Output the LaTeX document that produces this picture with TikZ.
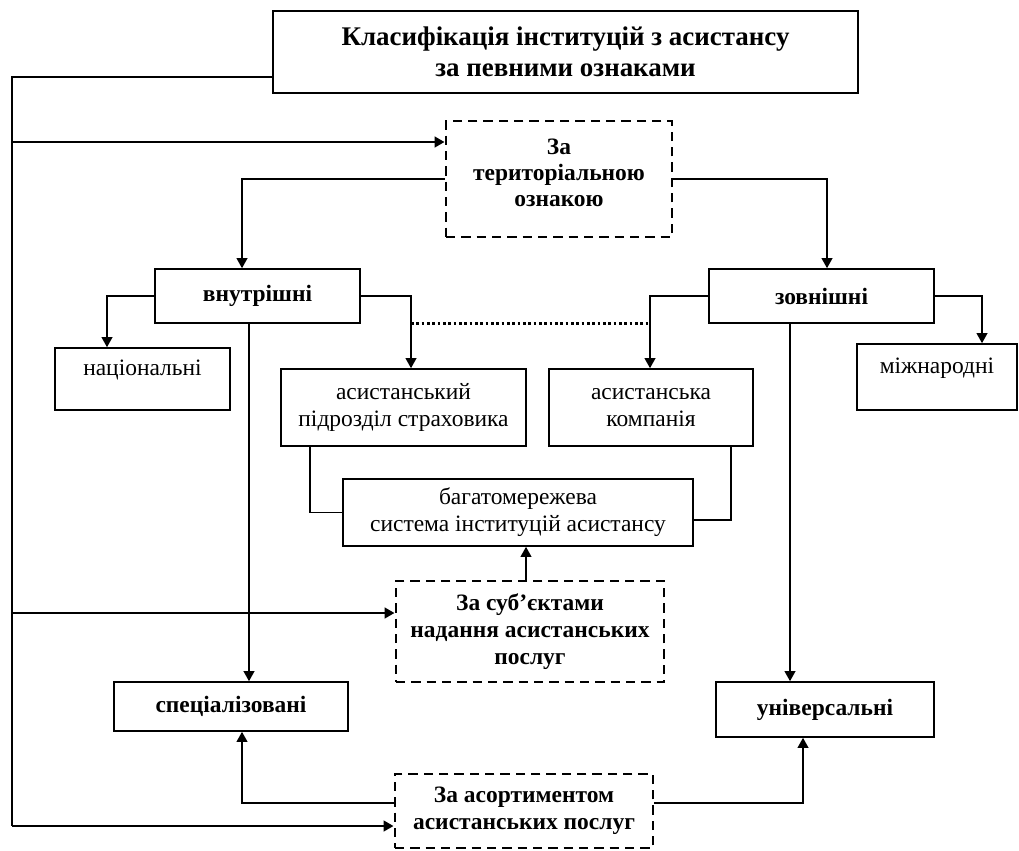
\documentclass[tikz,border=0pt]{standalone}
\usepackage{fontspec}
\setmainfont{Liberation Serif}
\usetikzlibrary{arrows.meta,calc}
\newcommand\bodyfnt{\fontsize{17.6}{20.25}\selectfont}
\newcommand\titlefnt{\fontsize{20.2}{23.25}\selectfont\bfseries}
\tikzset{
  box/.style={draw, line width=1.2pt, inner sep=0pt, align=center, font=\bodyfnt},
  tbox/.style={draw, line width=2.2pt, inner sep=0pt, align=center, font=\titlefnt},
  dbox/.style={draw, line width=2.2pt, dash pattern=on 7pt off 4.5pt, inner sep=0pt, align=center, font=\bodyfnt\bfseries},
  ln/.style={line width=1.2pt},
  arr/.style={line width=1.2pt, -{Triangle[length=7.5pt,width=8pt]}},
  bus/.style={line width=2.2pt},
  busarr/.style={line width=2.2pt, -{Triangle[length=7.5pt,width=8pt]}},
  dots/.style={line width=2pt, dash pattern=on 2pt off 2pt},
}
\begin{document}
\begin{tikzpicture}[x=0.75pt,y=-0.75pt]
\useasboundingbox (0,0) rectangle (1019,850);
% boxes
\node[tbox, minimum width=585*0.75pt, minimum height=82*0.75pt] (title) at (565.5,52) {Класифікація інституцій з асистансу\\за певними ознаками};
\node[dbox, minimum width=226*0.75pt, minimum height=116*0.75pt] (d1) at (559,179) {За\\[-1pt]територіальною\\[-1pt]ознакою\\[-11pt]\mbox{}};
\node[box, font=\bodyfnt\bfseries, minimum width=205*0.75pt, minimum height=54*0.75pt] (vn) at (257.5,296) {внутрішні};
\node[box, font=\bodyfnt\bfseries, minimum width=225*0.75pt, minimum height=54*0.75pt] (zv) at (821.5,296) {зовнішні};
\node[box, minimum width=175*0.75pt, minimum height=62*0.75pt] (nat) at (142.5,379) {національні\\[-3pt]\mbox{}};
\node[box, minimum width=160*0.75pt, minimum height=66*0.75pt] (miz) at (937,377) {міжнародні\\[-3pt]\mbox{}};
\node[box, minimum width=245*0.75pt, minimum height=77*0.75pt] (asp) at (403.5,407.5) {асистанський\\підрозділ страховика};
\node[box, minimum width=204*0.75pt, minimum height=77*0.75pt] (ask) at (651,407.5) {асистанська\\компанія};
\node[box, minimum width=350*0.75pt, minimum height=67*0.75pt] (bag) at (518,512.5) {багатомережева\\система інституцій асистансу};
\node[dbox, minimum width=268*0.75pt, minimum height=101*0.75pt] (d2) at (530,631.5) {За суб’єктами\\надання асистанських\\послуг};
\node[box, font=\bodyfnt\bfseries, minimum width=234*0.75pt, minimum height=49*0.75pt] (spec) at (231,706.5) {спеціалізовані};
\node[box, font=\bodyfnt\bfseries, minimum width=218*0.75pt, minimum height=55*0.75pt] (univ) at (825,709.5) {універсальні};
\node[dbox, minimum width=258*0.75pt, minimum height=74*0.75pt] (d3) at (524,811) {За асортиментом\\асистанських послуг};
% bus
\coordinate (b0) at (12,77);
\coordinate (bE) at (12,826);
\coordinate (b1) at (12,142);
\coordinate (b2) at (12,613);
\draw[bus, line join=miter] (title.west |- b0) -- (b0) -- (bE);
\draw[busarr] (b1) -- (b1 -| d1.west);
\draw[busarr] (b2) -- (b2 -| d2.west);
\draw[busarr] (bE) -- (bE -| d3.west);
% territorial
\draw[arr] (d1.west) -| ($(vn.north)+(-15.5,0)$);
\draw[arr] (d1.east) -| ($(zv.north)+(5.5,0)$);
\draw[arr] (vn.west) -| ($(nat.north)+(-35.5,0)$);
\draw[arr] (vn.east) -| ($(asp.north)+(7.5,0)$);
\draw[arr] (zv.west) -| ($(ask.north)+(-1,0)$);
\draw[arr] (zv.east) -| ($(miz.north)+(45,0)$);
% dotted link
\coordinate (dl) at ($(asp.north)+(7.5,0)$);
\coordinate (dr) at ($(ask.north)+(-1,0)$);
\draw[dots] (dl |- vn.south) -- (dr |- vn.south);
% long verticals
\coordinate (vs) at ($(vn.south)+(-8.5,0)$);
\draw[arr] (vs) -- (vs |- spec.north);
\coordinate (zs) at ($(zv.south)+(-31.5,0)$);
\draw[arr] (zs) -- (zs |- univ.north);
% to multi-network system
\draw[ln] ($(asp.south)+(-93.5,0)$) |- (bag.west);
\draw[ln] ($(ask.south)+(80,0)$) |- ($(bag.east)+(0,7.5)$);
\coordinate (ds) at ($(d2.north)+(-4,0)$);
\draw[arr] (ds) -- (ds |- bag.south);
% assortment
\draw[arr] ($(d3.west)+(0,-8)$) -| ($(spec.south)+(11,0)$);
\draw[arr] ($(d3.east)+(0,-8)$) -| ($(univ.south)+(-22,0)$);
\end{tikzpicture}
\end{document}
